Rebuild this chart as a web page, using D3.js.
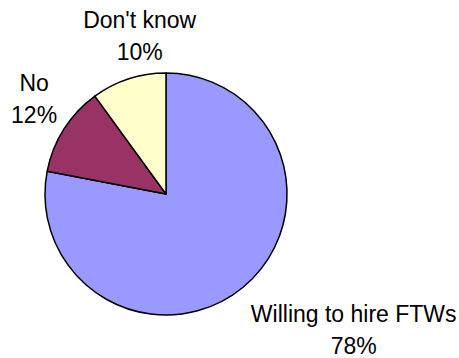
<!DOCTYPE html>
<html>
<head>
<meta charset="utf-8">
<script src="https://cdn.jsdelivr.net/npm/d3@7"></script>
<style>
  body { margin: 0; background: #fff; }
  text { font-family: "Liberation Sans", Arial, sans-serif; font-size: 23px; fill: #000; }
</style>
</head>
<body>
<svg width="459" height="358"></svg>
<script>
let svg = d3.select("svg");

// data, clockwise from 12 o'clock
let categories = ["Willing to hire FTWs", "No", "Don't know"];
let values = [78, 12, 10];
let colors = ["#9999FF", "#993366", "#FFFFCC"];

let cx = 166;
let cy = 194;
let radius = 121;

let slices = categories.map((c, i) => ({ name: c, value: values[i], color: colors[i] }));

let pie = d3.pie()
  .value((d) => d.value)
  .sort(null);

let arc = d3.arc().innerRadius(0).outerRadius(radius);
let labelArc = d3.arc().innerRadius(158).outerRadius(158);

let arcs = pie(slices);

let g = svg.append("g").attr("transform", `translate(${cx},${cy})`);

g.selectAll("path")
  .data(arcs)
  .enter()
  .append("path")
  .attr("d", arc)
  .attr("fill", (d) => d.data.color)
  .attr("stroke", "#000")
  .attr("stroke-width", 1.5)
  .attr("stroke-linejoin", "round");

// labels sit out from each slice, nudged the way the original places them
let nudge = [[87, 22], [1.5, -2.5], [22.5, 0]];

let label = g.selectAll("g.label")
  .data(arcs)
  .enter()
  .append("g")
  .attr("class", "label")
  .attr("transform", (d, i) => {
    let c = labelArc.centroid(d);
    return `translate(${c[0] + nudge[i][0]},${c[1] + nudge[i][1]})`;
  });

label.append("text")
  .attr("text-anchor", "middle")
  .attr("y", -16)
  .text((d) => d.data.name);

label.append("text")
  .attr("text-anchor", "middle")
  .attr("y", 16.5)
  .text((d) => d.data.value + "%");
</script>
</body>
</html>
